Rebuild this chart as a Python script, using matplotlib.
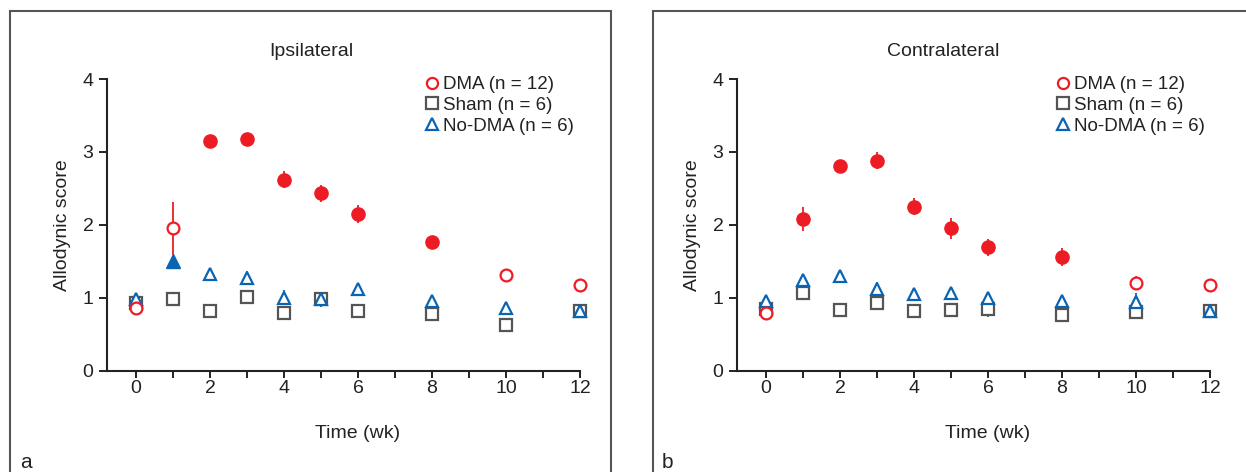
import matplotlib

matplotlib.use("Agg")

import matplotlib.pyplot as plt
from matplotlib.lines import Line2D
from matplotlib.patches import Rectangle
import numpy as np

weeks = [0, 1, 2, 3, 4, 5, 6, 8, 10, 12]
xtick_labels = ["0", "2", "4", "6", "8", "10", "12"]

# ipsilateral
ipsi_dma = [0.86, 1.95, 3.15, 3.18, 2.62, 2.43, 2.15, 1.76, 1.31, 1.18]
ipsi_dma_err = [0.04, 0.36, 0.05, 0.05, 0.12, 0.12, 0.12, 0.05, 0.06, 0.05]
ipsi_dma_sig = [False, False, True, True, True, True, True, True, False, False]
ipsi_sham = [0.93, 0.98, 0.82, 1.01, 0.79, 0.99, 0.82, 0.78, 0.62, 0.82]
ipsi_sham_err = [0.06, 0.04, 0.09, 0.05, 0.05, 0.05, 0.04, 0.06, 0.05, 0.05]
ipsi_nodma = [0.98, 1.50, 1.32, 1.27, 1.00, 0.98, 1.12, 0.96, 0.86, 0.82]
ipsi_nodma_err = [0.05, 0.05, 0.08, 0.10, 0.10, 0.10, 0.05, 0.07, 0.07, 0.05]
ipsi_nodma_sig = [False, True, False, False, False, False, False, False, False, False]

# contralateral
contra_dma = [0.79, 2.08, 2.81, 2.88, 2.25, 1.95, 1.69, 1.56, 1.20, 1.18]
contra_dma_err = [0.04, 0.16, 0.05, 0.12, 0.12, 0.14, 0.12, 0.12, 0.10, 0.05]
contra_dma_sig = [False, True, True, True, True, True, True, True, False, False]
contra_sham = [0.84, 1.07, 0.83, 0.93, 0.82, 0.83, 0.84, 0.77, 0.80, 0.82]
contra_sham_err = [0.05, 0.05, 0.10, 0.10, 0.10, 0.10, 0.10, 0.05, 0.05, 0.05]
contra_nodma = [0.96, 1.25, 1.30, 1.12, 1.05, 1.06, 1.00, 0.96, 0.94, 0.82]
contra_nodma_err = [0.05, 0.05, 0.08, 0.10, 0.05, 0.05, 0.05, 0.05, 0.12, 0.05]
contra_nodma_sig = [False] * 10

RED = "#ED1C24"
GRAY = "#555555"
BLUE = "#0A64B4"
FONT = "Liberation Sans"

plt.rcParams["font.family"] = FONT

W, H = 1246, 472
fig = plt.figure(figsize=(W / 100, H / 100), dpi=100)


def px_box(left, right, top, bottom):
    return [left / W, 1 - bottom / H, (right - left) / W, (bottom - top) / H]


def plot_series(ax, y, err, filled, color, marker, ms):
    x = np.array(weeks)
    y = np.array(y)
    err = np.array(err)
    filled = np.array(filled)
    eb = ax.errorbar(x, y, yerr=err, fmt="none", ecolor=color, elinewidth=1.3, capsize=0, zorder=2)
    for coll in eb.lines[2]:
        coll.set_clip_on(False)
    ax.plot(x[~filled], y[~filled], linestyle="none", marker=marker, ms=ms,
            mfc="white", mec=color, mew=1.6, zorder=3, clip_on=False)
    if filled.any():
        ax.plot(x[filled], y[filled], linestyle="none", marker=marker, ms=ms + 1,
                mfc=color, mec=color, mew=1.0, zorder=3, clip_on=False)


def panel(box, frame, title, title_x, letter, letter_x, dma, dma_err, dma_sig,
          sham, sham_err, nodma, nodma_err, nodma_sig, legend_x):
    ax = fig.add_axes(px_box(*box))
    plot_series(ax, sham, sham_err, [False] * 10, GRAY, "s", 8.5)
    plot_series(ax, nodma, nodma_err, nodma_sig, BLUE, "^", 8.5)
    plot_series(ax, dma, dma_err, dma_sig, RED, "o", 8.5)

    ax.set_xlim(-0.78, 12)
    ax.set_ylim(0, 4)
    ax.set_xticks(range(0, 13, 2))
    ax.set_xticklabels(xtick_labels)
    ax.set_xticks(range(1, 12, 2), minor=True)
    ax.set_yticks([0, 1, 2, 3, 4])
    ax.tick_params(axis="both", which="both", direction="out", width=1.4, color="#222222",
                   labelsize=14, labelcolor="#222222")
    ax.tick_params(axis="x", which="both", length=5, pad=2)
    ax.tick_params(axis="y", length=6, pad=4)
    for side in ["top", "right"]:
        ax.spines[side].set_visible(False)
    for side in ["left", "bottom"]:
        ax.spines[side].set_linewidth(1.5)
        ax.spines[side].set_color("#222222")

    ax.set_ylabel("Allodynic score", fontsize=14, color="#222222")
    ax.yaxis.set_label_coords(-0.077, 0.5)
    ax.set_xlabel("Time (wk)", fontsize=14, color="#222222")
    ax.xaxis.set_label_coords(0.53, -0.186)

    handles = [
        Line2D([], [], linestyle="none", marker="o", ms=8, mfc="white", mec=RED, mew=1.6),
        Line2D([], [], linestyle="none", marker="s", ms=8, mfc="white", mec=GRAY, mew=1.6),
        Line2D([], [], linestyle="none", marker="^", ms=8, mfc="white", mec=BLUE, mew=1.6),
    ]
    labels = ["DMA (n = 12)", "Sham (n = 6)", "No-DMA (n = 6)"]
    ax.legend(handles, labels, loc="upper left", bbox_to_anchor=(legend_x / W, 1 - 76 / H),
              bbox_transform=fig.transFigure, frameon=False, fontsize=13.5, borderpad=0,
              borderaxespad=0, handlelength=0.6, handletextpad=0.3, labelspacing=0.2,
              labelcolor="#222222")

    fig.patches.append(Rectangle((frame[0] / W, -0.1), (frame[1] - frame[0]) / W,
                                 1.1 - 11 / H, transform=fig.transFigure, fill=False,
                                 edgecolor="#555555", linewidth=1.5))
    fig.text(title_x / W, 1 - 52 / H, title, ha="center", va="center", fontsize=14,
             color="#222222")
    fig.text(letter_x / W, 1 - 463 / H, letter, ha="left", va="center", fontsize=15,
             color="#222222")
    return ax


panel((107.3, 580, 79, 370.7), (10, 611), "Ipsilateral", 311, "a", 20,
      ipsi_dma, ipsi_dma_err, ipsi_dma_sig, ipsi_sham, ipsi_sham_err,
      ipsi_nodma, ipsi_nodma_err, ipsi_nodma_sig, 426)
panel((737.3, 1210, 79, 370.7), (653, 1300), "Contralateral", 943, "b", 662,
      contra_dma, contra_dma_err, contra_dma_sig, contra_sham, contra_sham_err,
      contra_nodma, contra_nodma_err, contra_nodma_sig, 1057)

fig.savefig("out.png", dpi=100)
